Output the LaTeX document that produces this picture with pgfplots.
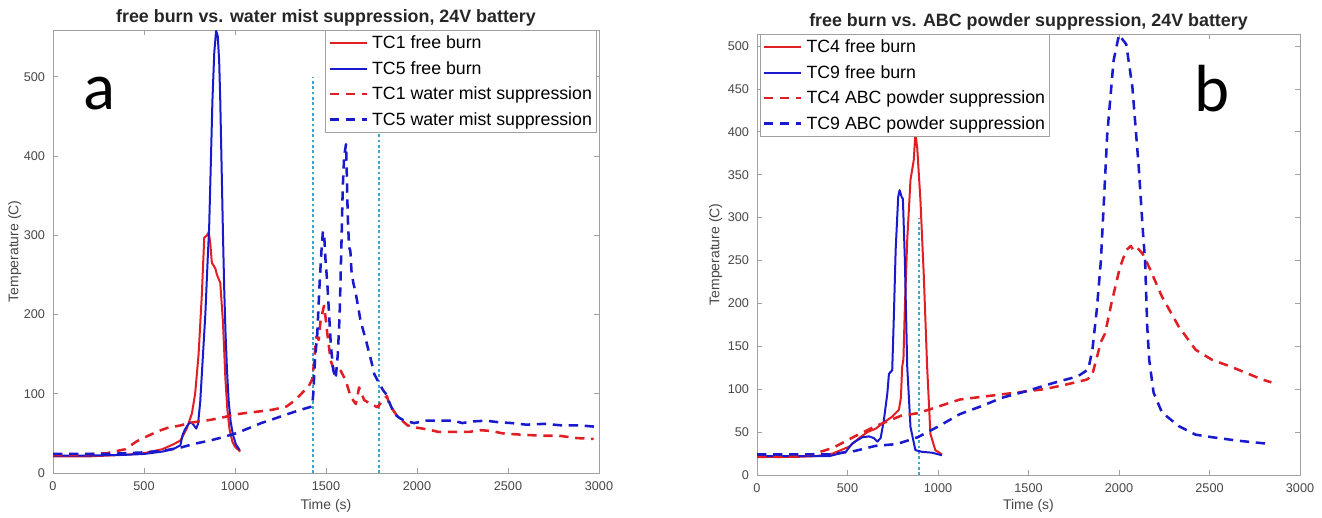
\documentclass[border=0pt]{standalone}
\usepackage{pgfplots}
\pgfplotsset{compat=1.18}
\usepackage{fontspec}
\setmainfont{Liberation Sans}
\newfontfamily\calib{Carlito}

\definecolor{tcred}{RGB}{225,30,35}
\definecolor{tcblue}{RGB}{25,25,205}
\definecolor{mistline}{RGB}{60,165,200}
\definecolor{axgray}{RGB}{160,160,160}
\definecolor{ticktext}{RGB}{70,70,70}

\pgfplotsset{
  tcaxis/.style={
    scale only axis,
    xmin=0, xmax=3000, ymin=0,
    xtick={0,500,...,3000},
    axis line style={axgray, line width=0.7pt},
    tick style={axgray, line width=0.6pt},
    major tick length=4pt,
    tick align=inside,
    xtick pos=both, ytick pos=both,
    /pgf/number format/1000 sep={},
    /pgf/number format/assume math mode=true,
    ticklabel style={font=\fontsize{9.5}{11}\selectfont, color=ticktext},
    xticklabel style={yshift=-3pt},
    yticklabel style={xshift=-2.5pt},
    label style={font=\fontsize{10.5}{12}\selectfont, color=ticktext},
    every axis title shift=0pt,
    title style={font=\bfseries\fontsize{13.4}{15}\selectfont, color=black!85},
    xlabel={Time (s)},
    ylabel={Temperature (C)},
    legend cell align=left,
    legend style={draw=axgray, fill=white, line width=0.6pt,
      font=\fontsize{13.3}{15}\selectfont,
      inner xsep=2pt, inner ysep=3pt, row sep=6pt,
      nodes={inner sep=1pt},
      /tikz/every odd column/.append style={column sep=2pt}},
    legend image code/.code={\draw[#1] (0pt,0pt) -- (28pt,0pt);},
    line join=round,
  },
  freeline/.style={line width=1.5pt},
  supline/.style={line width=1.9pt, dash pattern=on 7pt off 5pt},
  mist/.style={mistline, line width=1.2pt, dash pattern=on 2pt off 2pt, forget plot},
}

\begin{document}
\begin{tikzpicture}
\useasboundingbox (0,0) rectangle (991.5pt,388.5pt);

% ---- panel a ----
\begin{axis}[tcaxis,
  at={(39.75pt,33.75pt)}, anchor=south west,
  width=409.5pt, height=332.25pt,
  ymax=559, ytick={0,100,...,500},
  title={free burn vs. water mist suppression, 24V battery},
  title style={at={(axis description cs:0.5,1.027)}, anchor=center},
  xlabel style={at={(axis description cs:0.5,-0.075)}, anchor=center},
  ylabel style={at={(axis description cs:-0.07,0.5)}, anchor=center},
  legend style={at={(1,1)}, anchor=north east, xshift=-2pt},
]
\addplot[mist] coordinates {(1430,0) (1430,500)};
\addplot[mist] coordinates {(1790,0) (1790,500)};

\addplot[tcred, freeline] coordinates {
(0,21) (200,21) (300,22) (400,23) (500,25) (600,30) (660,36) (700,41)
(735,56) (763,75) (781,100) (800,150) (818,226) (831,297) (846,300)
(856,304) (864,290) (873,265) (882,262) (892,258) (901,250) (919,240)
(934,190) (947,120) (958,80) (970,55) (985,40) (1000,33) (1029,27)
};
\addlegendentry{TC1 free burn}

\addplot[tcblue, freeline] coordinates {
(0,22) (200,22) (400,23) (500,24) (600,27) (660,30) (700,35) (712,48)
(725,55) (745,62) (760,64) (775,60) (787,56) (797,62) (809,90) (823,145)
(837,200) (850,270) (858,310) (866,380) (876,470) (886,530) (896,558)
(905,552) (913,520) (919,470) (927,380) (934,300) (941,230) (948,176)
(956,130) (965,92) (976,65) (989,48) (1005,36) (1026,29)
};
\addlegendentry{TC5 free burn}

\addplot[tcred, supline] coordinates {
(0,23) (150,23) (296,25) (397,30) (460,40) (514,46) (580,53) (630,57)
(700,60) (747,63) (800,65) (864,67) (930,70) (1004,74) (1070,76)
(1144,78) (1210,80) (1284,84) (1331,92) (1377,103) (1406,110) (1424,118)
(1434,138) (1447,172) (1460,168) (1470,192) (1489,211) (1500,192)
(1507,176) (1526,142) (1544,129) (1581,129) (1608,117) (1636,96)
(1664,87) (1682,108) (1710,92) (1746,87) (1783,83) (1820,94) (1835,97)
(1847,87) (1893,71) (1949,60) (2004,57) (2059,55) (2115,52) (2170,52)
(2230,52) (2290,52) (2350,54) (2410,53) (2470,50) (2530,49) (2600,48)
(2700,47) (2780,47) (2880,44) (2970,43)
};
\addlegendentry{TC1 water mist suppression}

\addplot[tcblue, supline] coordinates {
(0,24) (200,24) (300,24) (400,25) (500,26) (600,28) (650,30) (700,32)
(747,35) (800,38) (864,41) (930,45) (1004,50) (1070,56) (1144,63)
(1210,68) (1284,74) (1350,79) (1424,84) (1430,100) (1440,145) (1452,175)
(1465,240) (1475,280) (1483,305) (1490,300) (1497,270) (1507,240)
(1517,200) (1527,160) (1540,130) (1553,119) (1565,150) (1575,200)
(1585,290) (1592,360) (1600,400) (1610,415) (1615,370) (1620,320)
(1627,285) (1634,280) (1640,255) (1650,240) (1664,226) (1690,192)
(1720,167) (1750,140) (1765,125) (1792,113) (1815,104) (1829,100)
(1850,88) (1875,75) (1900,70) (1930,66) (1985,63) (2050,66) (2120,66)
(2200,66) (2250,63) (2300,65) (2380,66) (2450,64) (2520,63) (2600,61)
(2700,62) (2800,60) (2900,60) (3000,58)
};
\addlegendentry{TC5 water mist suppression}
\end{axis}

% ---- panel b ----
\begin{axis}[tcaxis,
  at={(567.75pt,32.25pt)}, anchor=south west,
  width=407.25pt, height=330.75pt,
  ymax=514, ytick={0,50,...,500},
  title={free burn vs. ABC powder suppression, 24V battery},
  title style={at={(axis description cs:0.5,1.027)}, anchor=center},
  xlabel style={at={(axis description cs:0.5,-0.07)}, anchor=center},
  ylabel style={at={(axis description cs:-0.076,0.5)}, anchor=center},
  legend style={at={(0,1)}, anchor=north west, xshift=2pt},
]
\addplot[mist] coordinates {(895,0) (895,300)};

\addplot[tcred, freeline] coordinates {
(0,21) (200,21) (326,22) (418,25) (509,33) (564,43) (610,50) (656,54)
(692,60) (747,68) (784,76) (795,90) (802,126) (809,135) (817,196)
(830,274) (848,344) (866,367) (875,398) (885,382) (903,320) (921,235)
(940,126) (958,48) (985,29) (1022,24)
};
\addlegendentry{TC4 free burn}

\addplot[tcblue, freeline] coordinates {
(0,22) (200,22) (400,22) (491,27) (527,37) (582,44) (619,45) (646,43)
(665,39) (683,43) (701,64) (720,95) (729,118) (747,122) (756,184)
(766,262) (780,324) (788,332) (799,324) (806,322) (817,250) (830,126)
(848,56) (875,29) (912,27) (967,26) (1022,23)
};
\addlegendentry{TC9 free burn}

\addplot[tcred, supline] coordinates {
(0,21) (150,21) (307,24) (423,32) (540,45) (656,57) (795,69) (888,72)
(1005,80) (1121,88) (1237,91) (1353,94) (1470,97) (1586,100) (1700,105)
(1819,111) (1850,115) (1875,135) (1900,155) (1923,165) (1958,200)
(2005,242) (2040,262) (2065,267) (2080,262) (2100,265) (2130,258)
(2167,242) (2237,208) (2330,173) (2423,146) (2516,134) (2609,127)
(2702,119) (2795,111) (2842,108)
};
\addlegendentry{TC4 ABC powder suppression}

\addplot[tcblue, supline] coordinates {
(0,24) (200,24) (400,24) (540,28) (656,34) (772,36) (888,44) (1005,57)
(1121,71) (1237,80) (1353,90) (1493,98) (1633,107) (1772,115) (1830,123)
(1853,146) (1877,192) (1900,250) (1912,300) (1935,397) (1970,483)
(2000,513) (2040,502) (2074,452) (2109,359) (2133,281) (2144,250)
(2156,173) (2167,134) (2191,96) (2237,73) (2330,57) (2423,47) (2516,44)
(2656,40) (2749,38) (2842,36)
};
\addlegendentry{TC9 ABC powder suppression}
\end{axis}

% panel letters
\node[anchor=base, font=\calib\fontsize{50}{50}\selectfont] at (74.6pt,306pt) {a};
\node[anchor=base, font=\calib\fontsize{50}{50}\selectfont] at (909pt,304.5pt) {b};
\end{tikzpicture}
\end{document}
